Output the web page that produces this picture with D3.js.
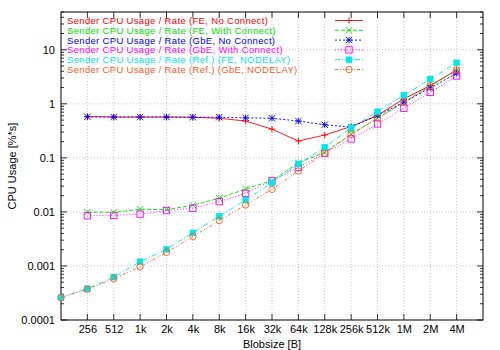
<!DOCTYPE html>
<html>
<head>
<meta charset="utf-8">
<script src="https://cdn.jsdelivr.net/npm/d3@7"></script>
<style>
body{margin:0;background:#fff;}
text{font-family:"Liberation Sans",Arial,sans-serif;}
.grid line{stroke:#a0a0a0;stroke-width:0.6;stroke-dasharray:1,2;}
</style>
</head>
<body>
<svg id="chart" width="500" height="350"></svg>
<script>

// ===============================
// DATA
// ===============================

const blobSizes=[128,256,512,1024,2048,4096,8192,16384,32768,65536,131072,262144,524288,1048576,2097152,4194304];

const tickLabels=["","256","512","1k","2k","4k","8k","16k","32k","64k","128k","256k","512k","1M","2M","4M"];

const seriesNames=[
    "Sender CPU Usage / Rate (FE, No Connect)",
    "Sender CPU Usage / Rate (FE, With Connect)",
    "Sender CPU Usage / Rate (GbE, No Connect)",
    "Sender CPU Usage / Rate (GbE, With Connect)",
    "Sender CPU Usage / Rate (Ref.) (FE, NODELAY)",
    "Sender CPU Usage / Rate (Ref.) (GbE, NODELAY)"
];

// null = no measurement at that size
const feNoConnect=[null,0.58,0.57,0.57,0.57,0.565,0.54,0.48,0.34,0.205,0.265,0.38,0.61,1.24,2.17,4.23];
const feWithConnect=[null,0.0099,0.0098,0.0112,0.0110,0.0133,0.0179,0.0266,0.0378,0.081,0.127,0.275,0.54,1.07,2.10,4.2];
const gbeNoConnect=[null,0.575,0.57,0.57,0.57,0.565,0.565,0.55,0.54,0.48,0.41,0.37,0.61,1.07,1.96,3.67];
const gbeWithConnect=[null,0.0085,0.0086,0.0091,0.0106,0.0117,0.0155,0.0221,0.0375,0.067,0.122,0.224,0.424,0.83,1.63,3.28];
const refFeNodelay=[0.00026,0.00038,0.00062,0.0012,0.00203,0.0041,0.0083,0.0166,0.0348,0.077,0.157,0.36,0.716,1.44,2.88,5.77];
const refGbeNodelay=[0.00026,0.00037,0.00058,0.00097,0.00179,0.0035,0.0069,0.0134,0.0262,0.057,0.122,0.273,0.54,1.07,2.17,4.23];

const yTicks=[0.0001,0.001,0.01,0.1,1,10];

// ===============================
// STYLES
// ===============================

const colors=["#ff0000","#00e000","#0000ff","#ff00ff","#00e8e8","#ff5a1e"];
const dashes=[null,"4,2","2,2","1,2","5,2,1,2","3,2,1,2,1,2"];
const markers=["plus","cross","star","square","filledSquare","circle"];

const allSeries=[feNoConnect,feWithConnect,gbeNoConnect,gbeWithConnect,refFeNodelay,refGbeNodelay];

// ===============================
// SCALES
// ===============================

const svg=d3.select("#chart");

const plotLeft=61, plotRight=483, plotTop=12, plotBottom=320;

const x=d3.scaleLog().base(2)
    .domain([128,8388608])
    .range([plotLeft,plotRight]);

const y=d3.scaleLog()
    .domain([0.0001,50])
    .range([plotBottom,plotTop]);

// ===============================
// GRID
// ===============================

const grid=svg.append("g").attr("class","grid");

grid.selectAll(".vg")
    .data(blobSizes.slice(1))
    .enter()
    .append("line")
    .attr("x1",d=>x(d)).attr("x2",d=>x(d))
    .attr("y1",plotTop).attr("y2",plotBottom);

grid.selectAll(".hg")
    .data(yTicks.slice(1))
    .enter()
    .append("line")
    .attr("x1",plotLeft).attr("x2",plotRight)
    .attr("y1",d=>y(d)).attr("y2",d=>y(d));

// ===============================
// AXES
// ===============================

const minorTicks=[];
for(let e=-4;e<=1;e++){
    for(let m=2;m<=9;m++){
        const v=m*Math.pow(10,e);
        if(v<=50) minorTicks.push(v);
    }
}

const axisStroke="#000";

// y tick labels
svg.append("g")
    .attr("transform",`translate(${plotLeft},0)`)
    .call(d3.axisLeft(y).tickValues(yTicks).tickSize(0).tickPadding(6)
        .tickFormat(d=>d>=1?d3.format("d")(d):String(d)))
    .call(g=>g.select(".domain").remove())
    .selectAll("text")
    .style("font-size","11px")
    .attr("fill","#000");

// major + minor ticks, left and right
[plotLeft,plotRight].forEach((px,i)=>{
    const dir=i===0?1:-1;
    svg.append("g").selectAll("line")
        .data(yTicks)
        .enter().append("line")
        .attr("x1",px).attr("x2",px+dir*6)
        .attr("y1",d=>y(d)).attr("y2",d=>y(d))
        .attr("stroke",axisStroke).attr("stroke-width",0.8);
    svg.append("g").selectAll("line")
        .data(minorTicks)
        .enter().append("line")
        .attr("x1",px).attr("x2",px+dir*3)
        .attr("y1",d=>y(d)).attr("y2",d=>y(d))
        .attr("stroke",axisStroke).attr("stroke-width",0.8);
});

// x tick labels
svg.append("g")
    .attr("transform",`translate(0,${plotBottom})`)
    .call(d3.axisBottom(x).tickValues(blobSizes.slice(1)).tickSize(0).tickPadding(5)
        .tickFormat((d,i)=>tickLabels[i+1]))
    .call(g=>g.select(".domain").remove())
    .selectAll("text")
    .style("font-size","11px")
    .attr("fill","#000");

[plotBottom,plotTop].forEach((py,i)=>{
    const dir=i===0?-1:1;
    svg.append("g").selectAll("line")
        .data(blobSizes.slice(1))
        .enter().append("line")
        .attr("x1",d=>x(d)).attr("x2",d=>x(d))
        .attr("y1",py).attr("y2",py+dir*6)
        .attr("stroke",axisStroke).attr("stroke-width",0.8);
});

svg.append("rect")
    .attr("x",plotLeft).attr("y",plotTop)
    .attr("width",plotRight-plotLeft).attr("height",plotBottom-plotTop)
    .attr("fill","none").attr("stroke","#000").attr("stroke-width",1);

// axis titles
svg.append("text")
    .attr("x",(plotLeft+plotRight)/2).attr("y",348)
    .attr("text-anchor","middle")
    .style("font-size","11px")
    .text("Blobsize [B]");

svg.append("text")
    .attr("transform",`translate(16,${(plotTop+plotBottom)/2}) rotate(-90)`)
    .attr("text-anchor","middle")
    .style("font-size","11px")
    .text("CPU Usage [%*s]");

// ===============================
// MARKERS
// ===============================

function drawMarker(g,type,color){
    const s=3.2;
    if(type==="plus"){
        g.append("path").attr("d",`M${-s},0H${s}M0,${-s}V${s}`)
            .attr("stroke",color).attr("fill","none");
    }else if(type==="cross"){
        g.append("path").attr("d",`M${-s},${-s}L${s},${s}M${-s},${s}L${s},${-s}`)
            .attr("stroke",color).attr("fill","none");
    }else if(type==="star"){
        g.append("path").attr("d",`M${-s},0H${s}M0,${-s}V${s}M${-s},${-s}L${s},${s}M${-s},${s}L${s},${-s}`)
            .attr("stroke",color).attr("fill","none");
    }else if(type==="square"){
        g.append("rect").attr("x",-s).attr("y",-s).attr("width",2*s).attr("height",2*s)
            .attr("stroke",color).attr("fill","none");
    }else if(type==="filledSquare"){
        g.append("rect").attr("x",-s).attr("y",-s).attr("width",2*s).attr("height",2*s)
            .attr("fill",color);
    }else{
        g.append("circle").attr("r",s)
            .attr("stroke",color).attr("fill","none");
    }
}

// ===============================
// SERIES
// ===============================

const line=d3.line()
    .defined(d=>d.v!==null)
    .x(d=>x(d.size))
    .y(d=>y(d.v));

allSeries.forEach((values,i)=>{

    const pts=values.map((v,j)=>({size:blobSizes[j],v:v}));

    svg.append("path")
        .datum(pts)
        .attr("d",line)
        .attr("fill","none")
        .attr("stroke",colors[i])
        .attr("stroke-width",0.9)
        .attr("stroke-dasharray",dashes[i]);

    pts.filter(d=>d.v!==null).forEach(d=>{
        const g=svg.append("g")
            .attr("transform",`translate(${x(d.size)},${y(d.v)})`)
            .attr("stroke-width",0.9);
        drawMarker(g,markers[i],colors[i]);
    });

});

// ===============================
// LEGEND
// ===============================

seriesNames.forEach((name,i)=>{

    const ly=20.5+i*9.8;

    svg.append("text")
        .attr("x",67).attr("y",ly+3.5)
        .attr("fill",colors[i])
        .style("font-size","9.5px")
        .style("letter-spacing","0.33px")
        .text(name);

    svg.append("line")
        .attr("x1",335).attr("x2",363)
        .attr("y1",ly).attr("y2",ly)
        .attr("stroke",colors[i])
        .attr("stroke-width",0.9)
        .attr("stroke-dasharray",dashes[i]);

    const g=svg.append("g")
        .attr("transform",`translate(349,${ly})`)
        .attr("stroke-width",0.9);

    drawMarker(g,markers[i],colors[i]);

});

</script>
</body>
</html>
